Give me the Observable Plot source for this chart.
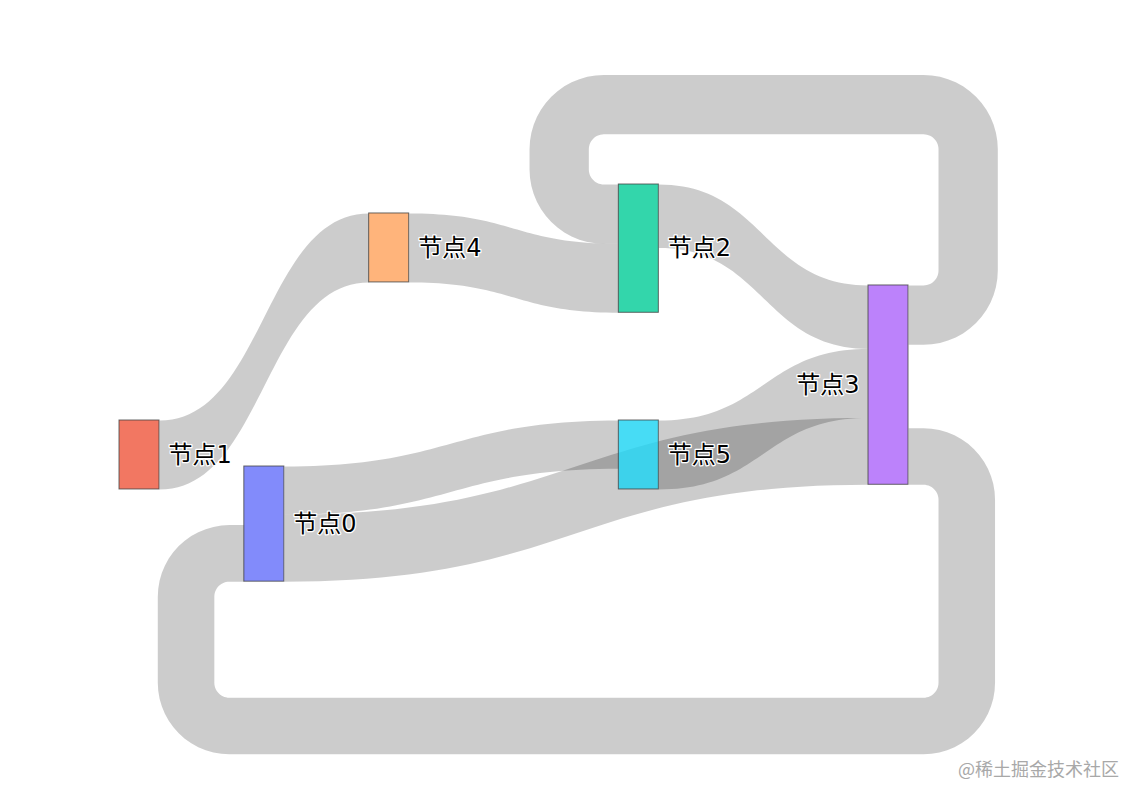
<!DOCTYPE html>
<html><head><meta charset="utf-8">
<script src="https://cdn.jsdelivr.net/npm/d3@7"></script>
<script src="https://cdn.jsdelivr.net/npm/@observablehq/plot@0.6"></script>
<style>
body{margin:0;background:#fff;}
#wrap{position:relative;width:1142px;height:800px;overflow:hidden;}
#wm{position:absolute;left:958px;top:755px;font-size:18px;font-family:"Noto Sans CJK SC",sans-serif;color:#a8a8a8;white-space:nowrap;letter-spacing:0px;}
</style></head><body><div id="wrap"><div id="chart"></div><div id="wm">@稀土掘金技术社区</div></div>
<script>
// ---- data ----
const nodeLabels = ["节点0","节点1","节点2","节点3","节点4","节点5"];
const nodeColors = ["#636efa","#EF553B","#00cc96","#ab63fa","#FFA15A","#19d3f3"];
const linkSource = [1, 4, 2, 0, 5, 0, 3, 3];
const linkTarget = [4, 2, 3, 5, 3, 3, 2, 0];
const linkValue  = [10, 10, 9.2, 7, 10, 9.7, 8.6, 8.2];

// ---- arrangement (like plotly node.x / node.y), kept apart from the data ----
const nodeX = [1/6, 0, 2/3, 1, 1/3, 2/3];          // column position, 0..1
const nodeY = [67.57, 60.9, 26.68, 41.32, 30.88, 60.9]; // node top, value units
const loopLevel = {top: 19.4, bottom: 101.1};       // inner edge of circular loops, value units
const nodeWidthPx = 40, loopGapPx = 30, loopRadiusPx = 15;

const xOpts = {domain: [0, 1], range: [119, 868]};
const yOpts = {domain: [0, 116], range: [0, 800]};
const xs = Plot.scale({x: xOpts});
const ys = Plot.scale({y: yOpts});
const nodeW = xs.invert(xs.apply(0) + nodeWidthPx) - 0;

// ---- layout ----
const nodes = nodeLabels.map((label, i) => ({i, label, color: nodeColors[i], x: nodeX[i], y: nodeY[i], ins: [], outs: []}));
const links = linkValue.map((v, k) => ({k, s: linkSource[k], t: linkTarget[k], v}));
for (const l of links) {
  l.circular = nodeX[l.t] <= nodeX[l.s];
  nodes[l.s].outs.push(l);
  nodes[l.t].ins.push(l);
}
for (const n of nodes) {
  n.h = Math.max(d3.sum(n.ins, l => l.v), d3.sum(n.outs, l => l.v));
  n.cy = n.y + n.h / 2;
}
for (const l of links) if (l.circular) l.side = nodes[l.t].cy < nodes[l.s].cy ? "top" : "bottom";
for (const n of nodes) {
  for (const [arr, key] of [[n.outs, "sy"], [n.ins, "ty"]]) {
    let top = n.y;
    const tops = arr.filter(l => l.circular && l.side === "top");
    const mids = arr.filter(l => !l.circular);
    for (const l of [...tops, ...mids]) { l[key] = top; top += l.v; }
    let bot = n.y + n.h;
    const bots = arr.filter(l => l.circular && l.side === "bottom").reverse();
    for (const l of bots) { bot -= l.v; l[key] = bot; }
  }
}

// ---- link shapes ----
const linkPts = [];
function bez(p0, p1, p2, p3, t) {
  const u = 1 - t;
  return u*u*u*p0 + 3*u*u*t*p1 + 3*u*t*t*p2 + t*t*t*p3;
}
const N = 48;
for (const l of links) {
  if (l.circular) continue;
  const x0 = nodes[l.s].x + nodeW, x1 = nodes[l.t].x, xm = (x0 + x1) / 2;
  const pts = [];
  for (let j = 0; j <= N; j++) { const t = j / N; pts.push([bez(x0, xm, xm, x1, t), bez(l.sy, l.sy, l.ty, l.ty, t)]); }
  for (let j = N; j >= 0; j--) { const t = j / N; pts.push([bez(x0, xm, xm, x1, t), bez(l.sy + l.v, l.sy + l.v, l.ty + l.v, l.ty + l.v, t)]); }
  for (const [x, y] of pts) linkPts.push({id: l.k, x, y});
}
function arc(pts, cx, cy, r, d0, d1) {
  const a0 = Math.atan2(d0[1], d0[0]);
  let da = Math.atan2(d1[1], d1[0]) - a0;
  while (da > Math.PI) da -= 2 * Math.PI;
  while (da < -Math.PI) da += 2 * Math.PI;
  for (let j = 0; j <= 14; j++) { const a = a0 + da * j / 14; pts.push([cx + r * Math.cos(a), cy + r * Math.sin(a)]); }
}
function edge(xS, yS, xR, Y, xL, yT, xT, r, s) {
  const p = [[xS, yS]];
  arc(p, xR - r, yS + s * r, r, [0, -s], [1, 0]);
  arc(p, xR - r, Y - s * r, r, [1, 0], [0, s]);
  arc(p, xL + r, Y - s * r, r, [0, s], [-1, 0]);
  arc(p, xL + r, yT + s * r, r, [-1, 0], [0, -s]);
  p.push([xT, yT]);
  return p;
}
for (const l of links) {
  if (!l.circular) continue;
  const s = l.side === "top" ? -1 : 1;
  const xS = xs.apply(nodes[l.s].x + nodeW), xT = xs.apply(nodes[l.t].x);
  const w = ys.apply(l.v) - ys.apply(0);
  const sTop = ys.apply(l.sy), sBot = ys.apply(l.sy + l.v);
  const tTop = ys.apply(l.ty), tBot = ys.apply(l.ty + l.v);
  const Yi = ys.apply(loopLevel[l.side]);
  const xRi = xS + loopGapPx, xLi = xT - loopGapPx;
  const inner = edge(xS, s < 0 ? sTop : sBot, xRi, Yi, xLi, s < 0 ? tTop : tBot, xT, loopRadiusPx, s);
  const outer = edge(xS, s < 0 ? sBot : sTop, xRi + w, Yi + s * w, xLi - w, s < 0 ? tBot : tTop, xT, loopRadiusPx + w, s);
  for (const [px, py] of [...inner, ...outer.reverse()]) linkPts.push({id: l.k, x: xs.invert(px), y: ys.invert(py)});
}

const font = "'DejaVu Sans','Noto Sans CJK SC',sans-serif";
const lastCol = d3.max(nodeX);
const textStyle = {fontSize: 24, fontFamily: font, fill: "black", stroke: "white", strokeWidth: 2.5, paintOrder: "stroke", strokeLinejoin: "round"};
const chart = Plot.plot({
  width: 1142, height: 800,
  marginTop: 0, marginRight: 0, marginBottom: 0, marginLeft: 0,
  x: {...xOpts, axis: null},
  y: {...yOpts, axis: null},
  style: {background: "white", overflow: "visible"},
  marks: [
    Plot.line(linkPts, {x: "x", y: "y", z: "id", curve: "linear", fill: "black", fillOpacity: 0.2, stroke: "none"}),
    Plot.rect(nodes, {x1: "x", x2: d => d.x + nodeW, y1: "y", y2: d => d.y + d.h, fill: "color", fillOpacity: 0.8, stroke: "#444", strokeWidth: 1, strokeOpacity: 0.8}),
    Plot.text(nodes.filter(n => n.x < lastCol), {x: d => d.x + nodeW, y: "cy", text: "label", dx: 9, textAnchor: "start", ...textStyle}),
    Plot.text(nodes.filter(n => n.x >= lastCol), {x: "x", y: "cy", text: "label", dx: -9, textAnchor: "end", ...textStyle})
  ]
});
document.getElementById("chart").appendChild(chart);
</script></body></html>
